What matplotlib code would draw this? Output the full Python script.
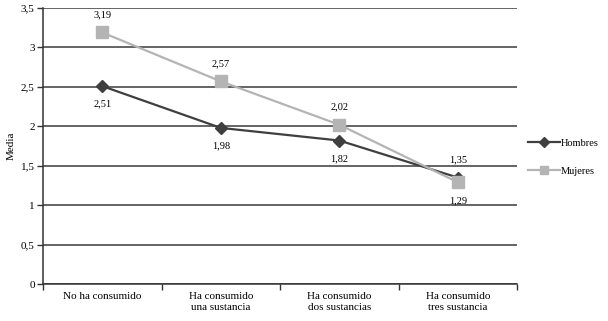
import matplotlib
matplotlib.use("Agg")
import matplotlib.pyplot as plt
from matplotlib.ticker import FixedLocator, NullFormatter

categories = ["No ha consumido", "Ha consumido\nuna sustancia", "Ha consumido\ndos sustancias", "Ha consumido\ntres sustancia"]
hombres = [2.51, 1.98, 1.82, 1.35]
mujeres = [3.19, 2.57, 2.02, 1.29]
yticks = [0, 0.5, 1, 1.5, 2, 2.5, 3, 3.5]
ytick_labels = ["0", "0,5", "1", "1,5", "2", "2,5", "3", "3,5"]

plt.rcParams['font.family'] = ['Liberation Serif', 'DejaVu Serif']

fig = plt.figure(figsize=(6.08, 3.21), dpi=100)
ax = fig.add_axes([0.0707, 0.115, 0.780, 0.860])

x = list(range(len(categories)))
hc = "#3f3f3f"
mc = "#b4b4b4"
l1, = ax.plot(x, hombres, color=hc, lw=1.6, marker="D", ms=6, label="Hombres", zorder=3)
l2, = ax.plot(x, mujeres, color=mc, lw=1.6, marker="s", ms=8, label="Mujeres", zorder=3)

for xi, v in zip(x, hombres):
    ax.annotate(f"{v:.2f}".replace(".", ","), (xi, v), xytext=(0, 13 if xi == 3 else -13),
                textcoords="offset points", ha="center", va="center", fontsize=7.5)
for xi, v in zip(x, mujeres):
    ax.annotate(f"{v:.2f}".replace(".", ","), (xi, v), xytext=(0, -13 if xi == 3 else 13),
                textcoords="offset points", ha="center", va="center", fontsize=7.5)

ax.set_xlim(-0.5, 3.5)
ax.set_ylim(0, 3.5)
ax.set_yticks(yticks)
ax.set_yticklabels(ytick_labels, fontsize=8)
ax.set_xticks(x)
ax.set_xticklabels(categories, fontsize=8)
ax.tick_params(axis="x", length=0, pad=6)
ax.xaxis.set_minor_locator(FixedLocator([-0.5, 0.5, 1.5, 2.5, 3.5]))
ax.xaxis.set_minor_formatter(NullFormatter())
ax.tick_params(axis="x", which="minor", length=4, width=1, color="#333333", direction="out")
ax.tick_params(axis="y", length=4, width=1, color="#333333", direction="out", pad=2)
ax.set_ylabel("Media", fontsize=8, labelpad=4)

ax.grid(axis="y", color="#3a3a3a", lw=1.1)
ax.set_axisbelow(True)
for s in ["top", "right"]:
    ax.spines[s].set_visible(False)
ax.spines["left"].set_color("#333333")
ax.spines["bottom"].set_color("#333333")
ax.spines["left"].set_linewidth(1.1)
ax.spines["bottom"].set_linewidth(1.1)

leg = fig.legend(handles=[l1, l2], loc="center left", bbox_to_anchor=(0.862, 0.51),
                 frameon=False, fontsize=7.5, handlelength=3, labelspacing=1.8,
                 handletextpad=0.1, borderaxespad=0, markerscale=0.8)

fig.savefig("out.png", dpi=100)
